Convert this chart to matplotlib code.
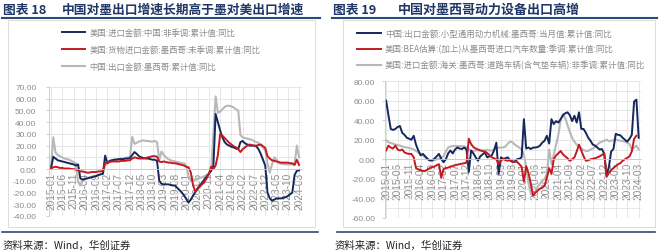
import matplotlib
matplotlib.use('Agg')
import matplotlib.pyplot as plt
from matplotlib.lines import Line2D
from matplotlib.patches import Rectangle

plt.rcParams['font.family'] = ['Noto Sans CJK SC', 'DejaVu Sans']

# ---------------- data ----------------
months = [f"{2015 + k // 12}-{k % 12 + 1:02d}" for k in range(111)]  # 2015-01 .. 2024-03
tick_pos = list(range(0, 111, 5))
tick_labels = [months[p] for p in tick_pos]

# Chart 18
us_imp_china = [0.5, 10.5, 9.0, 7.5, 7.0, 6.5, 6.0, 5.5, 5.0, 4.5, 4.0, 3.0,
                4.0, -8.0, -9.0, -8.5, -8.0, -7.5, -7.0, -6.5, -6.0, -5.0, -4.5, -4.0,
                11.5, 5.0, 7.0, 7.5, 8.0, 8.0, 8.5, 8.5, 8.5, 9.0, 9.0, 9.3,
                12.0, 14.5, 13.0, 11.0, 10.0, 9.5, 9.0, 9.0, 8.5, 8.0, 8.0, 7.0,
                -10.0, -12.5, -13.0, -13.0, -13.0, -13.5, -14.0, -14.0, -16.0, -18.0, -20.0, -22.5,
                -25.5, -28.5, -26.0, -22.5, -19.5, -16.5, -14.0, -11.5, -9.0, -6.5, -4.0, -1.5,
                3.0, 47.0, 40.0, 33.0, 27.0, 23.0, 21.0, 20.0, 19.0, 18.5, 17.5, 17.0,
                23.0, 24.0, 22.0, 21.0, 20.0, 20.0, 20.0, 19.5, 17.0, 13.0, 8.0, 3.0,
                -20.0, -25.0, -27.0, -26.0, -25.0, -25.0, -25.0, -24.5, -24.0, -23.0, -21.5, -20.0,
                -5.0, -1.5, -1.0]
us_imp_mexico = [0.5, 1.5, 2.0, 1.5, 1.0, 1.0, 0.5, 0.5, 0.5, 0.0, 0.0, -0.5,
                 -1.0, -2.0, -2.0, -2.5, -3.0, -3.0, -2.5, -2.5, -2.5, -2.0, -2.0, -1.5,
                 5.0, 6.0, 6.0, 6.5, 6.5, 6.5, 6.5, 7.0, 7.0, 7.0, 7.5, 7.5,
                 9.0, 10.0, 9.5, 9.0, 9.0, 9.0, 9.5, 10.0, 10.5, 11.0, 11.0, 10.5,
                 6.5, 6.0, 6.5, 6.0, 5.5, 5.5, 5.0, 5.0, 4.5, 4.0, 3.5, 3.0,
                 2.0, 1.5, -3.0, -14.0, -19.0, -17.0, -15.0, -13.0, -11.0, -8.0, -4.0, 2.0,
                 0.0, 3.0, 12.0, 30.0, 28.5, 26.5, 24.5, 22.5, 21.0, 19.5, 18.5, 17.0,
                 14.5, 17.0, 18.5, 20.0, 21.0, 20.5, 20.0, 20.0, 20.5, 21.0, 19.5, 18.0,
                 11.0, 9.0, 7.5, 7.0, 6.5, 6.0, 5.5, 5.5, 5.5, 5.5, 5.0, 5.0,
                 3.5, 8.0, 3.5]
cn_exp_mexico = [2.0, 27.0, 14.0, 12.0, 11.0, 10.0, 9.0, 8.5, 8.0, 7.0, 6.0, 5.0,
                 -11.0, -14.0, -10.0, -8.0, -7.5, -7.0, -6.5, -6.0, -5.5, -5.0, -4.5, -4.0,
                 3.0, 5.0, 7.0, 7.5, 8.0, 8.5, 8.5, 9.0, 9.0, 9.5, 10.0, 10.5,
                 27.5, 21.5, 22.5, 23.5, 24.0, 24.5, 24.0, 24.0, 23.5, 23.5, 24.0, 23.0,
                 8.0, 15.0, 12.0, 10.0, 8.5, 7.5, 7.0, 6.5, 6.0, 5.5, 5.0, 5.0,
                 2.0, -6.0, -10.0, -9.5, -9.0, -8.0, -7.5, -7.0, -6.0, -5.0, -4.0, -1.0,
                 30.0, 62.0, 48.0, 49.0, 51.0, 53.0, 54.0, 54.0, 53.5, 52.5, 51.0, 50.0,
                 29.0, 27.0, 26.5, 26.0, 25.5, 25.0, 24.0, 23.0, 22.5, 20.0, 18.5, 16.0,
                 5.0, -3.0, 4.0, 10.0, 8.0, 5.0, 4.5, 4.5, 4.0, 4.0, 4.0, 4.0,
                 4.0, 20.0, 10.0]

# Chart 19
cn_power_mach = [60, 45, 31, 30, 31, 33, 34, 27, 25, 22, 21, 20,
                 24, 15, 9, 4, 5.5, 3, 0.5, -1, -1, 0.5, 3, 5.5,
                 0.5, -3, 0, 6, 9, 6, 10, 12, 11, 10.5, 12, 10,
                 -13, 9, 6, 2, -1.5, 3, 5, 7, 2, 3, 4, 9,
                 17, -15, 2, 0.5, 1, 2, -1.5, -2, -2.5, 0, 0.5, 2,
                 41, 11, 12, 10.5, 12, 12, 12.5, 14, 17, 19, 24, 16,
                 41, 36, 39, 37.5, 41, 45, 47, 48, 45, 39, 44.5, 37.5,
                 48, 31, 31, 27, 22, 19, 15, 14, 12, 10, 10.5, 5.5,
                 -16.6, -8, 8, 10.5, 26, 25, 24.5, 22, 20, 18, 21, 25,
                 59, 61, 22]
us_auto_bea = [9, 14, 12, 11, 14, 10, 9, 10, 7, 6, 5.5, 5.5,
               2, -9, -10.5, -11, -12, -12, -10.5, -9, -8, -7.5, -6, -5,
               -19, -10, -9, -8.5, -7.5, -7, -6, -5.5, -5, -4.5, -4, -3.5,
               21, 15.5, 12.5, 11, 10, 9, 8.5, 8, 6.5, 4, 2, 1,
               0, -5, -1.5, 0.5, -1, -1.5, -0.5, -3, -2.5, -2.5, -5, -7.5,
               -23, -7, -14, -25, -37, -34, -32, -30, -29, -27, -19, -9,
               -15, 0, 4, 6, 8.5, 5, 3, 1, -1.5, 0, 2, 8,
               15, 9, 3, -1.5, -1, 0, 0.5, 1, 2, 3, 4.5, 6,
               -18, -14, -11, -9, -7, -5, -4, -1.5, 0, 1.5, 3, 8,
               21, 24, float('nan')]
us_road_veh = [19.5, 17.5, 16.5, 16, 15, 14.5, 14, 13, 12.5, 12, 11.5, 11,
               10, 8.5, 7, 5.5, 4, 2, 0, -1.5, -2, -1, 0, 0.5,
               2, 3, 8, 12, 13, 13.5, 13.5, 13.5, 13.5, 13.5, 13, 12.5,
               10, 8, 8.5, 9, 9.5, 9, 9, 9, 9.5, 9, 9, 10,
               11, 12, 12, 12, 13, 16, 18, 17.5, 15, 13.5, 12, 10,
               5, -8, -25, -35, -37, -33, -28, -25, -22, -20, -15, 10,
               -5, 5, 15, 25, 40, 46, 42, 35, 28, 22, 18, 15,
               13, 11, 9.5, 8.5, 8.5, 10, 11, 12.5, 15, 17, 18, 19,
               20, 18.5, 19, 19.5, 20, 19.5, 19, 18.5, 18, 17, 15.5, 10,
               12, 14, 10]

labels18 = ['美国:进口金额:中国:非季调:累计值:同比',
            '美国:货物进口金额:墨西哥:未季调:累计值:同比',
            '中国:出口金额:墨西哥:累计值:同比']
labels19 = ['中国:出口金额:小型通用动力机械:墨西哥:当月值:累计值:同比',
            '美国:BEA估算:(加上)从墨西哥进口汽车数量:季调:累计值:同比',
            '美国:进口金额:海关:墨西哥:道路车辆(含气垫车辆):非季调:累计值:同比']

NAVY = '#14285e'
RED = '#c41a1f'
GRAY = '#b8b8b8'
TITLE_C = '#1f3667'
TICK_C = '#8c8c8c'
GRID_C = '#e3e3e3'
NUMFONT = ['Liberation Sans', 'DejaVu Sans']

W, H = 660, 253
fig = plt.figure(figsize=(W / 100, H / 100), dpi=100)
fig.patch.set_facecolor('white')


def fx(px):
    return px / W


def fy(py):
    return 1 - py / H


def make_axes(x0, x1, y0, y1, xlim, ylim, ystep, yminor, ypad):
    ax = fig.add_axes([fx(x0), fy(y1), fx(x1 - x0), (y1 - y0) / H])
    ax.set_xlim(*xlim)
    ax.set_ylim(*ylim)
    ax.set_facecolor('none')
    for s in ['top', 'right']:
        ax.spines[s].set_visible(False)
    ax.spines['left'].set_color('#c8c8c8')
    ax.spines['left'].set_linewidth(0.6)
    ax.spines['bottom'].set_position(('data', 0))
    ax.spines['bottom'].set_color('#c8c8c8')
    ax.spines['bottom'].set_linewidth(0.6)
    yt = list(range(ylim[0], ylim[1] + 1, ystep))
    ax.set_yticks(yt)
    ax.set_yticklabels([f"{v:.2f}" for v in yt], family=NUMFONT, fontsize=6, color=TICK_C)
    ax.set_yticks(list(range(ylim[0], ylim[1] + 1, yminor)), minor=True)
    ax.set_xticks(tick_pos)
    ax.set_xticklabels(tick_labels, rotation=90, family=NUMFONT, fontsize=7.3, color=TICK_C)
    ax.tick_params(axis='x', length=0, pad=2)
    ax.tick_params(axis='y', which='major', length=2, pad=ypad, color='#c8c8c8', width=0.6)
    ax.tick_params(axis='y', which='minor', length=0)
    ax.grid(True, which='major', axis='x', color=GRID_C, lw=0.6)
    ax.grid(True, which='both', axis='y', color=GRID_C, lw=0.6)
    ax.set_axisbelow(True)
    return ax


x = list(range(len(months)))

# ---------- Chart 18 ----------
ax1 = make_axes(49, 302, 88, 217, (-0.9, 111.3), (-40, 70), 10, 10, 7)
g1, = ax1.plot(x, cn_exp_mexico, color=GRAY, lw=1.5)
n1, = ax1.plot(x, us_imp_china, color=NAVY, lw=1.4)
r1, = ax1.plot(x, us_imp_mexico, color=RED, lw=1.4)
leg1 = fig.legend([n1, r1, g1], labels18, loc='upper left',
                  bbox_to_anchor=(fx(62), fy(28.5)), frameon=False, fontsize=6,
                  handlelength=2.8, handletextpad=0.5, labelspacing=0.97,
                  borderpad=0, borderaxespad=0)
for t in leg1.get_texts():
    t.set_color(TICK_C)

# ---------- Chart 19 ----------
ax2 = make_axes(385, 641, 82, 219, (-0.5, 111), (-60, 80), 20, 10, 5)
g2, = ax2.plot(x, us_road_veh, color=GRAY, lw=1.5)
n2, = ax2.plot(x, cn_power_mach, color=NAVY, lw=1.4)
r2, = ax2.plot(x, us_auto_bea, color=RED, lw=1.4)
leg2 = fig.legend([n2, r2, g2], labels19, loc='upper left',
                  bbox_to_anchor=(fx(357), fy(29.5)), frameon=False, fontsize=6.1,
                  handlelength=2.8, handletextpad=0.5, labelspacing=0.8,
                  borderpad=0, borderaxespad=0)
for t in leg2.get_texts():
    t.set_color(TICK_C)

# ---------- decorations ----------
fig.add_artist(Rectangle((fx(8), fy(228)), fx(315 - 8), (228 - 21) / H,
                         transform=fig.transFigure, fill=False, ec='#dcdcdc', lw=0.7))
fig.add_artist(Rectangle((fx(343), fy(228)), fx(655 - 343), (228 - 21) / H,
                         transform=fig.transFigure, fill=False, ec='#dcdcdc', lw=0.7))

for (a, b) in [(2, 320), (332, 657)]:
    fig.add_artist(Line2D([fx(a), fx(b)], [fy(19), fy(19)], color='#2d4a7e', lw=1.5))
for (a, b) in [(2, 318), (337, 655)]:
    fig.add_artist(Line2D([fx(a), fx(b)], [fy(233), fy(233)], color='#2d4a7e', lw=1.2))

fig.text(fx(3), fy(10), '图表 18', fontsize=9.2, fontweight='bold', color=TITLE_C, va='center')
fig.text(fx(62), fy(10), '中国对墨出口增速长期高于墨对美出口增速', fontsize=9.2, fontweight='bold',
         color=TITLE_C, va='center')
fig.text(fx(333), fy(10), '图表 19', fontsize=9.2, fontweight='bold', color=TITLE_C, va='center')
fig.text(fx(398), fy(10), '中国对墨西哥动力设备出口高增', fontsize=9.4, fontweight='bold',
         color=TITLE_C, va='center')

fig.text(fx(3), fy(246), '资料来源：Wind，华创证券', fontsize=7.5, style='italic',
         color='#222222', va='center')
fig.text(fx(335), fy(246), '资料来源：Wind，华创证券', fontsize=7.5, style='italic',
         color='#222222', va='center')

fig.savefig('out.png', dpi=100, facecolor='white')
